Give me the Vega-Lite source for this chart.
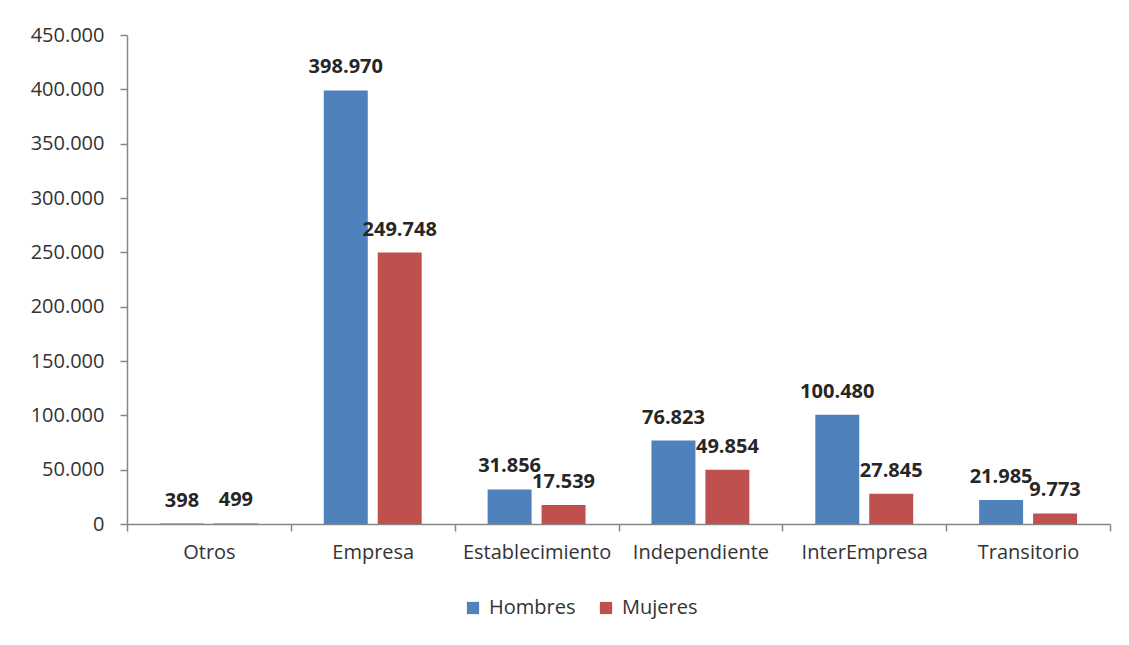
{
  "$schema": "https://vega.github.io/schema/vega-lite/v6.json",
  "autosize": {"type": "none"},
  "width": 983,
  "height": 489,
  "padding": {"left": 127, "top": 35, "right": 19, "bottom": 121},
  "background": "white",
  "config": {
    "locale": {"number": {"decimal": ",", "thousands": ".", "grouping": [3], "currency": ["", ""]}},
    "view": {"stroke": null},
    "font": "Open Sans"
  },
  "data": {
    "values": [
      {"tipo": "Otros", "sexo": "Hombres", "valor": 398},
      {"tipo": "Otros", "sexo": "Mujeres", "valor": 499},
      {"tipo": "Empresa", "sexo": "Hombres", "valor": 398970},
      {"tipo": "Empresa", "sexo": "Mujeres", "valor": 249748},
      {"tipo": "Establecimiento", "sexo": "Hombres", "valor": 31856},
      {"tipo": "Establecimiento", "sexo": "Mujeres", "valor": 17539},
      {"tipo": "Independiente", "sexo": "Hombres", "valor": 76823},
      {"tipo": "Independiente", "sexo": "Mujeres", "valor": 49854},
      {"tipo": "InterEmpresa", "sexo": "Hombres", "valor": 100480},
      {"tipo": "InterEmpresa", "sexo": "Mujeres", "valor": 27845},
      {"tipo": "Transitorio", "sexo": "Hombres", "valor": 21985},
      {"tipo": "Transitorio", "sexo": "Mujeres", "valor": 9773}
    ]
  },
  "encoding": {
    "x": {
      "field": "tipo", "type": "nominal", "sort": null, "title": null,
      "scale": {"paddingInner": 0, "paddingOuter": 0},
      "axis": {
        "labelAngle": 0, "labelFont": "Open Sans", "labelFontSize": 20, "labelColor": "#333333",
        "labelPadding": 11, "tickBand": "extent", "tickSize": 7, "tickColor": "#868686",
        "domainColor": "#868686", "domainWidth": 1.5, "tickWidth": 1.5, "grid": false
      }
    },
    "xOffset": {
      "field": "sexo", "type": "nominal",
      "scale": {"paddingInner": 0.185, "paddingOuter": 0.611}
    },
    "y": {
      "field": "valor", "type": "quantitative", "title": null,
      "scale": {"domain": [0, 450000]},
      "axis": {
        "values": [0, 50000, 100000, 150000, 200000, 250000, 300000, 350000, 400000, 450000],
        "format": ",d", "labelFont": "Open Sans", "labelFontSize": 20, "labelColor": "#333333",
        "labelPadding": 16, "tickSize": 7, "tickColor": "#868686", "domainColor": "#868686",
        "domainWidth": 1.5, "tickWidth": 1.5, "grid": false
      }
    }
  },
  "layer": [
    {
      "mark": {"type": "bar"},
      "encoding": {
        "color": {
          "field": "sexo", "type": "nominal", "title": null,
          "scale": {"domain": ["Hombres", "Mujeres"], "range": ["#4F81BD", "#C0504D"]},
          "legend": {
            "orient": "none", "legendX": 336, "legendY": 563, "direction": "horizontal",
            "symbolType": "square", "symbolSize": 150, "symbolStrokeWidth": 0,
            "labelFont": "Open Sans", "labelFontSize": 20, "labelColor": "#333333",
            "labelOffset": 6, "columnPadding": 20
          }
        }
      }
    },
    {
      "mark": {"type": "text", "baseline": "alphabetic", "dy": -17, "font": "Open Sans", "fontWeight": "bold", "fontSize": 20, "color": "#262626"},
      "encoding": {
        "text": {"field": "valor", "type": "quantitative", "format": ",d"}
      }
    }
  ]
}
